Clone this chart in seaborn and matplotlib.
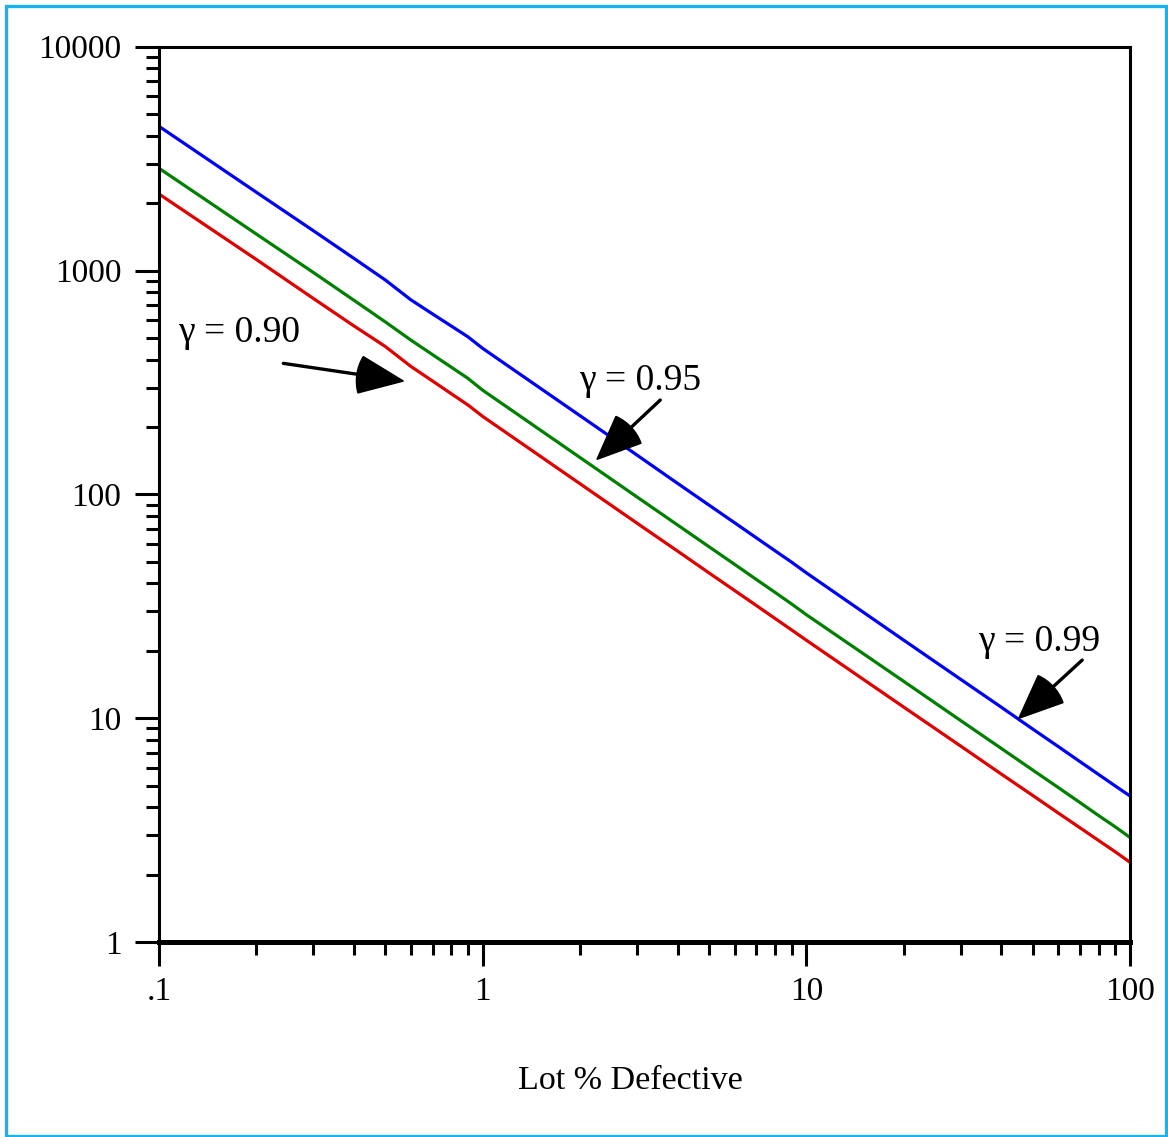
import matplotlib
matplotlib.use("Agg")
import numpy as np
import matplotlib.pyplot as plt
import seaborn as sns
import pandas as pd
from matplotlib.patches import Rectangle, Wedge
from matplotlib.transforms import IdentityTransform
from matplotlib.ticker import LogLocator, NullFormatter

# lot percent defective (x) and sample sizes
pct_defective = [0.1, 0.2, 0.3, 0.4, 0.5, 0.6, 0.7, 0.8, 0.9, 1.0,
                 2, 3, 4, 5, 6, 7, 8, 9, 10,
                 20, 30, 40, 50, 60, 70, 80, 90, 100]
n_099 = [4410, 2237, 1506, 1134, 908, 740, 640, 565, 506, 449,
         224.5, 149.7, 112, 89.6, 74.7, 64, 56, 49.8, 44.6,
         22.3, 14.9, 11.2, 8.95, 7.47, 6.4, 5.6, 4.98, 4.49]
n_095 = [2865, 1455, 980, 737, 590, 489, 421, 370, 330, 292,
         146, 97.3, 73, 58.4, 48.7, 41.7, 36.5, 32.4, 29.0,
         14.6, 9.75, 7.33, 5.87, 4.9, 4.2, 3.67, 3.27, 2.93]
n_090 = [2198, 1120, 750, 566, 458, 373, 321, 281.5, 251, 223,
         111.5, 74.3, 55.8, 44.6, 37.2, 31.9, 27.9, 24.8, 22.3,
         11.2, 7.5, 5.63, 4.52, 3.77, 3.24, 2.84, 2.53, 2.27]

gammas = ["0.99", "0.95", "0.90"]
line_colors = ["#0000FF", "#008000", "#E00000"]

x_ticks = [0.1, 1, 10, 100]
x_ticklabels = [".1", "1", "10", "100"]
y_ticks = [1, 10, 100, 1000, 10000]
y_ticklabels = ["1", "10", "100", "1000", "10000"]

# (label, label position, arrow tail, arrow tip) in data units
notes = [
    ("γ = 0.90", (0.1768, 525.6), (0.2422, 384.9), (0.569, 320.8)),
    ("γ = 0.95", (3.068, 320.8), (3.538, 263.9), (2.254, 143.3)),
    ("γ = 0.99", (52.2, 21.95), (71.15, 18.18), (45.3, 9.98)),
]

df = pd.concat([
    pd.DataFrame({"pct": pct_defective, "n": vals, "gamma": g})
    for g, vals in zip(gammas, [n_099, n_095, n_090])
])

sns.set_style("ticks")
plt.rcParams["font.family"] = ["Liberation Serif", "DejaVu Serif"]
for key in ["text.color", "axes.labelcolor", "xtick.color", "ytick.color",
            "axes.edgecolor"]:
    plt.rcParams[key] = "black"

fig = plt.figure(figsize=(11.68, 11.37), dpi=100)
ax = fig.add_axes([0.1361, 0.1715, 0.8314, 0.7874])

sns.lineplot(data=df, x="pct", y="n", hue="gamma", hue_order=gammas,
             palette=line_colors, linewidth=2.3, legend=False, ax=ax,
             sort=False, estimator=None)

ax.set_xscale("log")
ax.set_yscale("log")
ax.set_xlim(0.1, 100)
ax.set_ylim(1, 10000)
ax.set_xticks(x_ticks, x_ticklabels)
ax.set_yticks(y_ticks, y_ticklabels)
ax.xaxis.set_minor_locator(LogLocator(base=10, subs=range(2, 10)))
ax.yaxis.set_minor_locator(LogLocator(base=10, subs=range(2, 10)))
ax.xaxis.set_minor_formatter(NullFormatter())
ax.yaxis.set_minor_formatter(NullFormatter())
ax.tick_params(which="both", bottom=True, left=True, top=False, right=False)
ax.tick_params(which="major", direction="out", length=17, width=2.2,
               labelsize=24, pad=8)
ax.tick_params(which="minor", direction="out", length=9.5, width=2.2)
ax.tick_params(axis="y", which="major", pad=10)

for side in ["top", "left", "right"]:
    ax.spines[side].set_linewidth(2.2)
ax.spines["bottom"].set_linewidth(3.6)

ax.set_ylabel("")
ax.set_xlabel("Lot % Defective", fontsize=24.5, labelpad=42)
ax.xaxis.label.set_x(0.485)

# labels with pie-slice arrow heads
for text, pos, tail, tip in notes:
    ax.text(pos[0], pos[1], text, fontsize=27, ha="center", va="center")
    ax.annotate("", xy=tip, xytext=tail,
                arrowprops=dict(arrowstyle="-", lw=2.4, color="black",
                                shrinkA=0, shrinkB=8))
    tip_d = ax.transData.transform(tip)
    tail_d = ax.transData.transform(tail)
    back = np.degrees(np.arctan2(tail_d[1] - tip_d[1], tail_d[0] - tip_d[0]))
    ax.add_artist(Wedge(tip_d, 47, back - 23, back + 23, color="black",
                        transform=IdentityTransform(), zorder=5))

# light blue frame round the whole picture
fig.patches.append(Rectangle((5.7 / 1168, 1 - 1135.5 / 1137),
                             (1166 - 5.7) / 1168, (1135.5 - 5.7) / 1137,
                             transform=fig.transFigure, fill=False,
                             edgecolor="#1AB2EC", linewidth=2.4))

fig.savefig("out.png", dpi=100)
